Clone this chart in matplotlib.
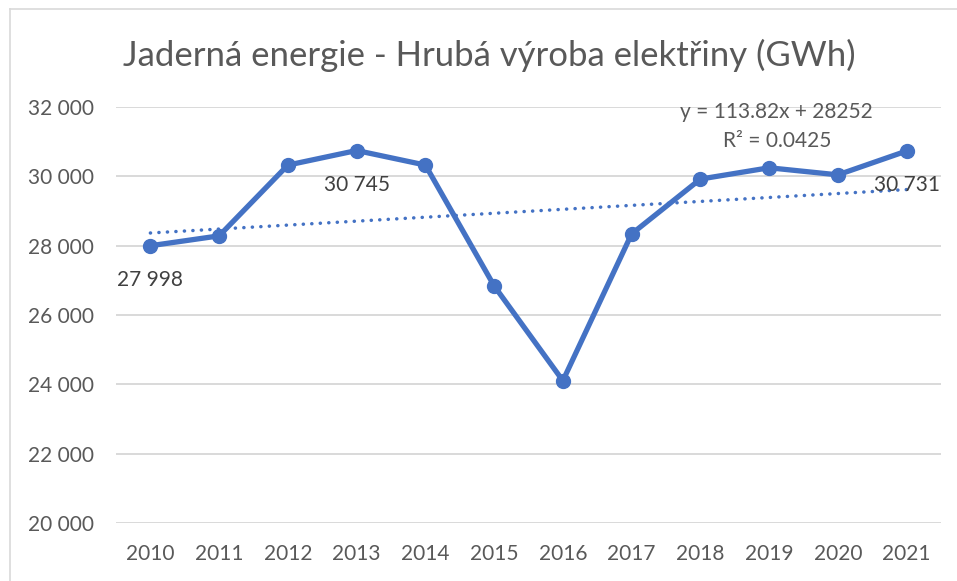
import numpy as np
import matplotlib.pyplot as plt
from matplotlib.ticker import FuncFormatter
from matplotlib.lines import Line2D

# Datos: hrubá výroba elektřiny z jaderných elektráren (GWh)
roky = ['2010', '2011', '2012', '2013', '2014', '2015',
        '2016', '2017', '2018', '2019', '2020', '2021']
vyroba = [27998, 28283, 30324, 30745, 30325, 26841,
          24104, 28339, 29921, 30247, 30043, 30731]
popisky_roky = ['2010', '2013', '2021']  # body s datovým popiskem

titulek = 'Jaderná energie - Hrubá výroba elektřiny (GWh)'
rovnice = 'y = 113.82x + 28252'
r2_text = 'R² = 0.0425'
y_ticks = [20000, 22000, 24000, 26000, 28000, 30000, 32000]

MODRA = '#4472C4'
SEDA_TEXT = '#595959'
SEDA_POPISEK = '#404040'

plt.rcParams['font.family'] = ['Lato', 'DejaVu Sans']


def cislo(v, pos=None):
    return f"{v:,.0f}".replace(",", " ")


fig = plt.figure(figsize=(9.57, 5.81), dpi=100)
ax = fig.add_axes([116 / 957, 1 - 523 / 581, 825 / 957, 416 / 581])

x = np.arange(len(roky))

# Lineární trend jako v Excelu (x = 1..n)
k, q = np.polyfit(x + 1, vyroba, 1)
ax.plot(x, k * (x + 1) + q, color=MODRA, lw=2.5,
        linestyle=(0, (0.05, 2.4)), dash_capstyle='round', zorder=2)

ax.plot(x, vyroba, color=MODRA, lw=3.8, marker='o', markersize=10,
        solid_joinstyle='round', zorder=3)

for i, rok in enumerate(roky):
    if rok in popisky_roky:
        ax.annotate(cislo(vyroba[i]), (x[i], vyroba[i]), xytext=(0, -24.5),
                    textcoords='offset points', ha='center', va='center',
                    fontsize=15, color=SEDA_POPISEK, zorder=4)

ax.text(0.801, 0.988, rovnice, transform=ax.transAxes,
        ha='center', va='center', fontsize=15, color=SEDA_TEXT)
ax.text(0.801, 0.918, r2_text, transform=ax.transAxes,
        ha='center', va='center', fontsize=15, color=SEDA_TEXT)

ax.set_xlim(-0.5, len(roky) - 0.5)
ax.set_ylim(20000, 32000)
ax.set_xticks(x)
ax.set_xticklabels(roky)
ax.set_yticks(y_ticks)
ax.yaxis.set_major_formatter(FuncFormatter(cislo))
ax.tick_params(axis='both', length=0, labelsize=15, labelcolor=SEDA_TEXT)
ax.tick_params(axis='y', pad=16)
ax.tick_params(axis='x', pad=15)
ax.grid(axis='y', color='#D9D9D9', lw=1.4)
ax.set_axisbelow(True)
for s in ax.spines.values():
    s.set_visible(False)

fig.text(489 / 957, 1 - 55 / 581, titulek, ha='center', va='center',
         fontsize=25, color=SEDA_TEXT)

# Okraj grafu (jen levá a horní hrana jsou vidět)
fig.add_artist(Line2D([10 / 957, 10 / 957], [0, 1 - 9 / 581],
                      transform=fig.transFigure, color='#D9D9D9', lw=1.2))
fig.add_artist(Line2D([10 / 957, 1], [1 - 9 / 581, 1 - 9 / 581],
                      transform=fig.transFigure, color='#D9D9D9', lw=1.2))

fig.savefig('out.png', dpi=100, facecolor='white')
